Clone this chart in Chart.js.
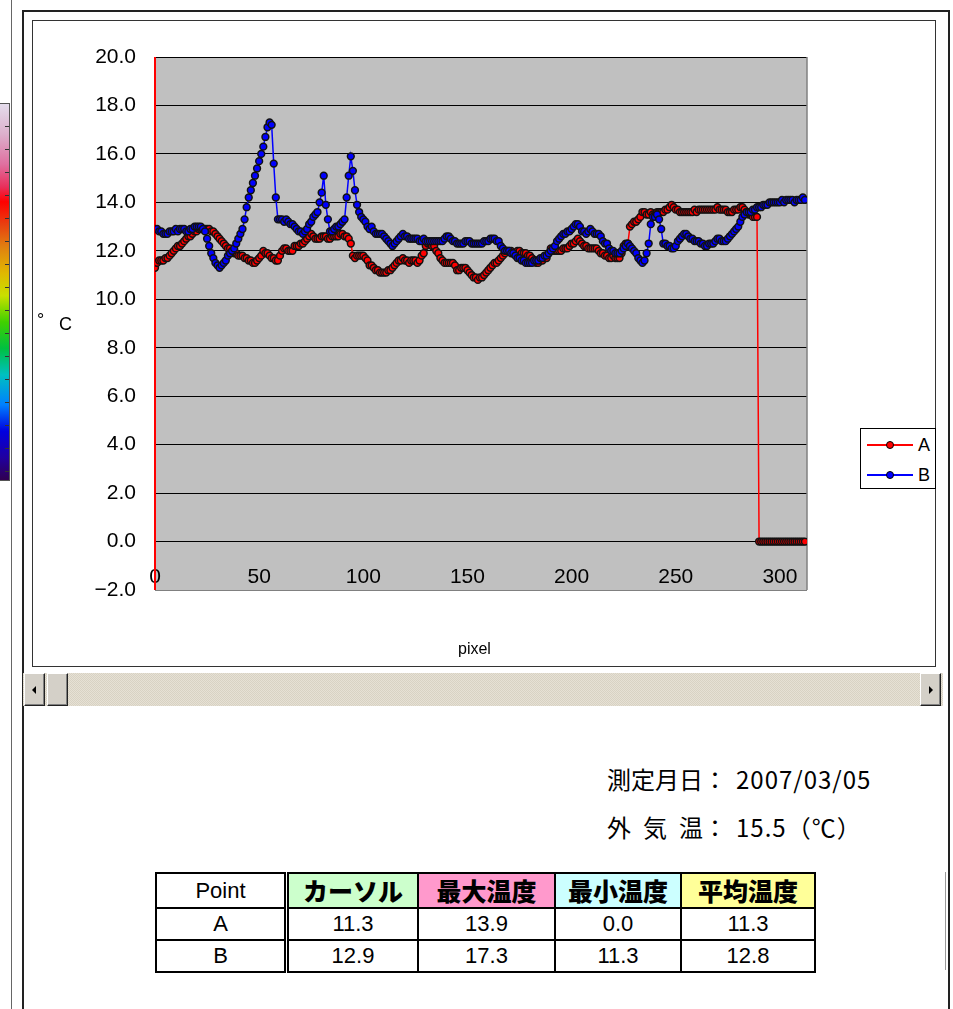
<!DOCTYPE html>
<html>
<head>
<meta charset="utf-8">
<title>pixel temperature profile</title>
<script src="https://cdn.jsdelivr.net/npm/chart.js@4.4.1/dist/chart.umd.min.js"></script>
<style>
  html, body { margin: 0; padding: 0; background: #fff; }
  body { width: 953px; height: 1009px; position: relative; overflow: hidden;
         font-family: "Liberation Sans", Arial, sans-serif; color: #000; }
  .abs { position: absolute; }
  #palette { left: 0; top: 103px; width: 9px; height: 376px; border: 1px solid #555; border-left: none;
    background:
      repeating-linear-gradient(to bottom, transparent 0 22px, #333 22px 23px) right top / 4px 100% no-repeat,
      linear-gradient(to bottom, #e4dcec 0%, #dcb0cc 8%, #e070a0 16%, #e8305c 22%, #ff0000 26%, #e84010 32%,
        #e08010 38%, #e0b800 45%, #c8e000 51%, #40d000 58%, #00c040 65%, #00c0c0 72%, #0080ff 80%,
        #0000e0 87%, #2000a0 94%, #300050 100%); }
  #chartBox { left: 32px; top: 20px; width: 902px; height: 645px; border: 1px solid #333; }
  #chart { position: absolute; left: 0; top: 0; }
  #legend { left: 860px; top: 428px; width: 74px; height: 59px; border: 1px solid #000; background: #fff; }
  .lg-row { position: absolute; left: 0; width: 74px; height: 22px; }
  .lg-line { position: absolute; left: 6px; top: 10px; width: 46px; height: 2px; }
  .lg-dot { position: absolute; left: 25px; top: 7px; width: 6px; height: 6px; border-radius: 50%; border: 1.3px solid #000; }
  .lg-text { position: absolute; left: 57px; top: 0; font-size: 18px; line-height: 22px; }
  #scroll { left: 23px; top: 673px; width: 920px; height: 33px;
    background: repeating-conic-gradient(#e6e1d5 0 25%, #d8d2c3 0 50%) 0 0 / 2px 2px; }
  .btn { position: absolute; top: 0; width: 19px; height: 31px; background: #d4d0c8;
    border-top: 1px solid #fff; border-left: 1px solid #fff; border-right: 1px solid #222; border-bottom: 1px solid #222;
    box-shadow: inset -1px -1px 0 #808080; }
  .arrow { position: absolute; top: 12px; width: 0; height: 0; border-top: 4px solid transparent; border-bottom: 4px solid transparent; }
  .info { left: 607px; font-family: "Noto Sans CJK JP", sans-serif; font-size: 24px; line-height: 32px; white-space: pre; }
  .info .num { margin-left: 9px; letter-spacing: 1px; }
  .info .sp { margin-right: 12px; }
  #stats { left: 155px; top: 872px; border-collapse: collapse; border: 2px solid #000; table-layout: fixed; }
  #stats td { border: 2px solid #000; text-align: center; padding: 0; font-size: 22px;
    font-family: "Liberation Sans", Arial, sans-serif; }
  #stats tr.head td { height: 33px; font-family: "Noto Sans CJK JP", sans-serif; font-weight: 900; font-size: 25px; line-height: 33px; }
  #stats tr.head td.pt { font-family: "Liberation Sans", Arial, sans-serif; font-weight: normal; font-size: 22px; }
  #stats tr.row td { height: 30px; line-height: 30px; }
  #stats td.pt { border-right: 5px double #000; }
</style>
</head>
<body>
<div id="palette" class="abs"></div>
<div class="abs" style="left:11px;top:0;width:1px;height:1009px;background:#666;"></div>
<div class="abs" style="left:22px;top:10px;width:2px;height:999px;background:#222;"></div>
<div class="abs" style="left:22px;top:10px;width:928px;height:2px;background:#222;"></div>
<div class="abs" style="left:948px;top:10px;width:2px;height:999px;background:#222;"></div>

<div id="chartBox" class="abs">
  <canvas id="chart" width="902" height="645"></canvas>
  <div class="abs" style="left:4px;top:289px;font-size:18px;">°</div>
  <div class="abs" style="left:26px;top:293px;font-size:18px;">C</div>
  <div class="abs" style="left:425px;top:619px;font-size:16px;">pixel</div>
</div>
<div id="legend" class="abs"></div>

<div id="scroll" class="abs">
  <div class="btn" style="left:1px;"><div class="arrow" style="left:7px;border-right:4px solid #000;"></div></div>
  <div class="btn" style="left:24px;"></div>
  <div class="btn" style="left:897px;"><div class="arrow" style="left:8px;border-left:4px solid #000;"></div></div>
</div>

<div class="abs info" style="top:763px;">測定月日：<span class="num">2007/03/05</span></div>
<div class="abs info" style="top:811px;"><span class="sp">外</span><span class="sp">気</span>温：<span class="num">15.5（℃）</span></div>

<table id="stats" class="abs"></table>
<div class="abs" style="left:945px;top:872px;width:1px;height:98px;background:#999;"></div>

<script>
// Temperature along the measured line, one value per pixel (°C)
const tempA = [
  11.3,11.5,11.6,11.6,11.6,11.7,11.7,11.8,11.9,12.0,
  12.1,12.2,12.2,12.3,12.4,12.5,12.6,12.6,12.7,12.8,
  12.8,12.9,12.9,12.9,12.9,12.9,12.9,12.8,12.8,12.7,
  12.6,12.5,12.4,12.3,12.2,12.1,12.1,12.0,11.9,11.9,
  11.8,11.8,11.8,11.7,11.7,11.6,11.6,11.5,11.5,11.6,
  11.7,11.8,12.0,11.9,11.9,11.8,11.7,11.7,11.6,11.6,
  11.8,12.0,12.1,12.1,12.0,12.0,12.0,12.2,12.2,12.2,
  12.3,12.3,12.4,12.5,12.6,12.7,12.6,12.5,12.5,12.5,
  12.6,12.6,12.6,12.5,12.5,12.6,12.6,12.6,12.6,12.7,
  12.7,12.6,12.6,12.5,12.3,11.8,11.7,11.8,11.8,11.8,
  11.8,11.7,11.6,11.4,11.4,11.3,11.2,11.2,11.1,11.1,
  11.1,11.1,11.2,11.2,11.3,11.4,11.5,11.6,11.6,11.7,
  11.6,11.6,11.5,11.6,11.6,11.6,11.5,11.6,11.8,11.9,
  12.2,12.3,12.3,12.2,12.2,12.0,11.9,11.7,11.6,11.5,
  11.5,11.5,11.5,11.5,11.4,11.2,11.2,11.3,11.3,11.3,
  11.2,11.1,11.0,10.9,10.9,10.8,10.9,10.9,11.0,11.1,
  11.2,11.3,11.4,11.5,11.5,11.6,11.7,11.8,11.9,12.0,
  12.0,12.0,11.9,11.9,12.0,12.0,11.9,11.9,11.9,11.8,
  11.8,11.7,11.6,11.5,11.5,11.6,11.6,11.7,11.7,11.9,
  12.1,12.0,12.0,12.0,12.0,12.0,12.1,12.1,12.1,12.2,
  12.3,12.3,12.4,12.5,12.4,12.3,12.2,12.2,12.1,12.1,
  12.1,12.1,12.1,12.0,11.9,11.9,11.8,11.8,11.7,11.7,
  11.8,11.7,11.7,11.7,11.9,12.2,12.3,12.3,13.0,13.1,
  13.2,13.2,13.3,13.4,13.6,13.6,13.5,13.5,13.6,13.5,
  13.5,13.6,13.6,13.6,13.6,13.7,13.7,13.8,13.9,13.8,
  13.7,13.7,13.6,13.6,13.6,13.6,13.6,13.6,13.6,13.7,
  13.6,13.7,13.7,13.7,13.7,13.7,13.7,13.7,13.7,13.7,
  13.8,13.7,13.7,13.7,13.7,13.6,13.6,13.6,13.7,13.7,
  13.7,13.8,13.8,13.7,13.6,13.5,13.5,13.4,13.4,13.4,
  0.0,0.0,0.0,0.0,0.0,0.0,0.0,0.0,0.0,0.0,
  0.0,0.0,0.0,0.0,0.0,0.0,0.0,0.0,0.0,0.0,
  0.0,0.0,0.0
];
const tempB = [
  12.9,12.9,12.8,12.8,12.7,12.7,12.7,12.8,12.8,12.8,
  12.9,12.8,12.9,12.9,12.9,12.8,12.8,12.9,12.9,13.0,
  13.0,13.0,13.0,12.9,12.8,12.5,12.2,11.9,11.7,11.5,
  11.4,11.3,11.4,11.5,11.6,11.8,11.9,12.0,12.1,12.3,
  12.5,12.7,12.9,13.3,13.8,14.2,14.5,14.8,15.1,15.4,
  15.7,16.0,16.3,16.7,17.1,17.3,17.2,15.6,14.2,13.3,
  13.3,13.3,13.2,13.3,13.2,13.1,13.1,13.0,12.9,12.8,
  12.8,12.7,12.8,12.9,13.1,13.2,13.4,13.5,13.6,14.0,
  14.4,15.1,13.9,13.3,12.8,12.8,12.9,13.0,13.0,13.1,
  13.2,13.3,14.2,15.1,15.9,15.3,14.5,13.9,13.6,13.4,
  13.3,13.2,13.0,12.9,13.0,12.8,12.7,12.7,12.7,12.7,
  12.6,12.5,12.4,12.3,12.2,12.3,12.4,12.5,12.6,12.7,
  12.6,12.6,12.5,12.5,12.5,12.5,12.5,12.4,12.4,12.5,
  12.4,12.4,12.4,12.4,12.4,12.4,12.4,12.4,12.4,12.5,
  12.6,12.6,12.5,12.4,12.4,12.3,12.3,12.3,12.3,12.4,
  12.4,12.4,12.3,12.3,12.3,12.3,12.3,12.3,12.4,12.4,
  12.4,12.5,12.5,12.5,12.4,12.4,12.2,12.1,12.0,12.0,
  12.0,11.9,11.9,11.8,11.7,11.7,11.6,11.6,11.5,11.5,
  11.5,11.5,11.6,11.6,11.6,11.7,11.7,11.8,11.8,11.9,
  12.0,12.1,12.2,12.4,12.5,12.6,12.7,12.7,12.8,12.8,
  12.9,13.0,13.1,13.1,13.0,12.8,12.8,12.7,12.8,12.9,
  12.8,12.7,12.7,12.7,12.6,12.4,12.3,12.3,12.1,12.0,
  12.0,11.9,11.9,11.9,12.0,12.1,12.2,12.3,12.2,12.1,
  12.0,11.9,11.7,11.6,11.5,11.6,11.9,12.3,13.1,13.4,
  13.4,13.5,13.3,12.9,12.3,12.3,12.2,12.2,12.1,12.1,
  12.2,12.4,12.5,12.6,12.7,12.7,12.6,12.5,12.5,12.4,
  12.4,12.4,12.3,12.3,12.2,12.2,12.3,12.3,12.3,12.4,
  12.5,12.5,12.4,12.4,12.4,12.5,12.6,12.7,12.8,12.9,
  13.0,13.2,13.4,13.5,13.6,13.6,13.6,13.7,13.7,13.8,
  13.8,13.8,13.9,13.9,13.9,14.0,14.0,14.0,14.0,14.0,
  14.0,14.1,14.0,14.1,14.1,14.1,14.1,14.0,14.1,14.1,
  14.1,14.2,14.1
];
const pixelIndex = tempA.map((_, i) => i);   // x: pixel position along the line
const cursorPixel = 0;                       // cursor position
const xTicks = [0, 50, 100, 150, 200, 250, 300];
const yRange = { min: -2, max: 20, step: 2 };

// Summary table
const tableHeader = ['Point', 'カーソル', '最大温度', '最小温度', '平均温度'];
const headerColors = ['#ffffff', '#ccffcc', '#ff99cc', '#ccffff', '#ffff99'];
const tableRows = [
  ['A', '11.3', '13.9', '0.0', '11.3'],
  ['B', '12.9', '17.3', '11.3', '12.8']
];
const columnWidths = [127, 128, 135, 124, 132];

const FONT = '"Liberation Sans", Arial, sans-serif';
const toPoints = arr => arr.map((v, i) => ({ x: pixelIndex[i], y: v }));

// grey plot background and right edge of the plot frame
const plotFrame = {
  id: 'plotFrame',
  beforeDraw(chart) {
    const { ctx, chartArea: a } = chart;
    ctx.save();
    ctx.fillStyle = '#c0c0c0';
    ctx.fillRect(a.left, a.top, a.right - a.left, a.bottom - a.top);
    ctx.restore();
  },
  beforeDatasetsDraw(chart) {
    const { ctx, chartArea: a } = chart;
    ctx.save();
    ctx.strokeStyle = '#808080';
    ctx.lineWidth = 1.5;
    ctx.beginPath();
    ctx.moveTo(a.right, a.top);
    ctx.lineTo(a.right, a.bottom);
    ctx.stroke();
    ctx.restore();
  }
};

const seriesStyle = color => ({
  borderColor: color,
  backgroundColor: color,
  pointBackgroundColor: color,
  pointBorderColor: '#111',
  pointBorderWidth: 1.5,
  pointRadius: 3.4,
  borderWidth: 1.5,
  tension: 0
});

const chart = new Chart(document.getElementById('chart'), {
  type: 'line',
  data: {
    datasets: [
      Object.assign({ label: 'A', data: toPoints(tempA), order: 2 }, seriesStyle('#ff0000')),
      Object.assign({ label: 'B', data: toPoints(tempB), order: 1 }, seriesStyle('#0000ff')),
      { label: 'cursor', data: [{ x: cursorPixel, y: yRange.min }, { x: cursorPixel, y: yRange.max }],
        borderColor: '#ff0000', borderWidth: 2, pointRadius: 0, order: 3, clip: 4 }
    ]
  },
  options: {
    responsive: false,
    animation: false,
    devicePixelRatio: 1,
    layout: { padding: { top: 36, right: 128, bottom: 76, left: 0 } },
    plugins: { legend: { display: false }, tooltip: { enabled: false } },
    scales: {
      x: {
        type: 'linear',
        position: { y: 0 },
        min: 0,
        max: 313,
        grid: { display: false },
        border: { display: false },
        afterBuildTicks: s => { s.ticks = xTicks.map(v => ({ value: v })); },
        ticks: { padding: 15, color: '#000', font: { family: FONT, size: 21 }, maxRotation: 0, autoSkip: false }
      },
      y: {
        min: yRange.min,
        max: yRange.max,
        afterFit: s => { s.width = 122; },
        grid: { color: c => (c.tick && c.tick.value === yRange.min ? '#808080' : '#000'), lineWidth: 1, drawTicks: false },
        border: { display: false },
        ticks: {
          stepSize: yRange.step,
          padding: 19,
          color: '#000',
          font: { family: FONT, size: 21 },
          callback: v => (v < 0 ? '\u2212' : '') + Math.abs(v).toFixed(1)
        }
      }
    }
  },
  plugins: [plotFrame]
});

// legend entries for the two measurement points
const legend = document.getElementById('legend');
chart.data.datasets.filter(d => d.label !== 'cursor').forEach((d, i) => {
  const row = document.createElement('div');
  row.className = 'lg-row';
  row.style.top = (5 + i * 30) + 'px';
  row.innerHTML = '<div class="lg-line" style="background:' + d.borderColor + '"></div>' +
    '<div class="lg-dot" style="background:' + d.pointBackgroundColor + '"></div>' +
    '<div class="lg-text">' + d.label + '</div>';
  legend.appendChild(row);
});

// summary table
const table = document.getElementById('stats');
const head = table.insertRow();
head.className = 'head';
tableHeader.forEach((t, i) => {
  const c = head.insertCell();
  c.textContent = t;
  c.style.background = headerColors[i];
  c.style.width = columnWidths[i] + 'px';
  if (i === 0) c.className = 'pt';
});
tableRows.forEach(r => {
  const tr = table.insertRow();
  tr.className = 'row';
  r.forEach((t, i) => {
    const c = tr.insertCell();
    c.textContent = t;
    if (i === 0) c.className = 'pt';
  });
});
</script>
</body>
</html>
